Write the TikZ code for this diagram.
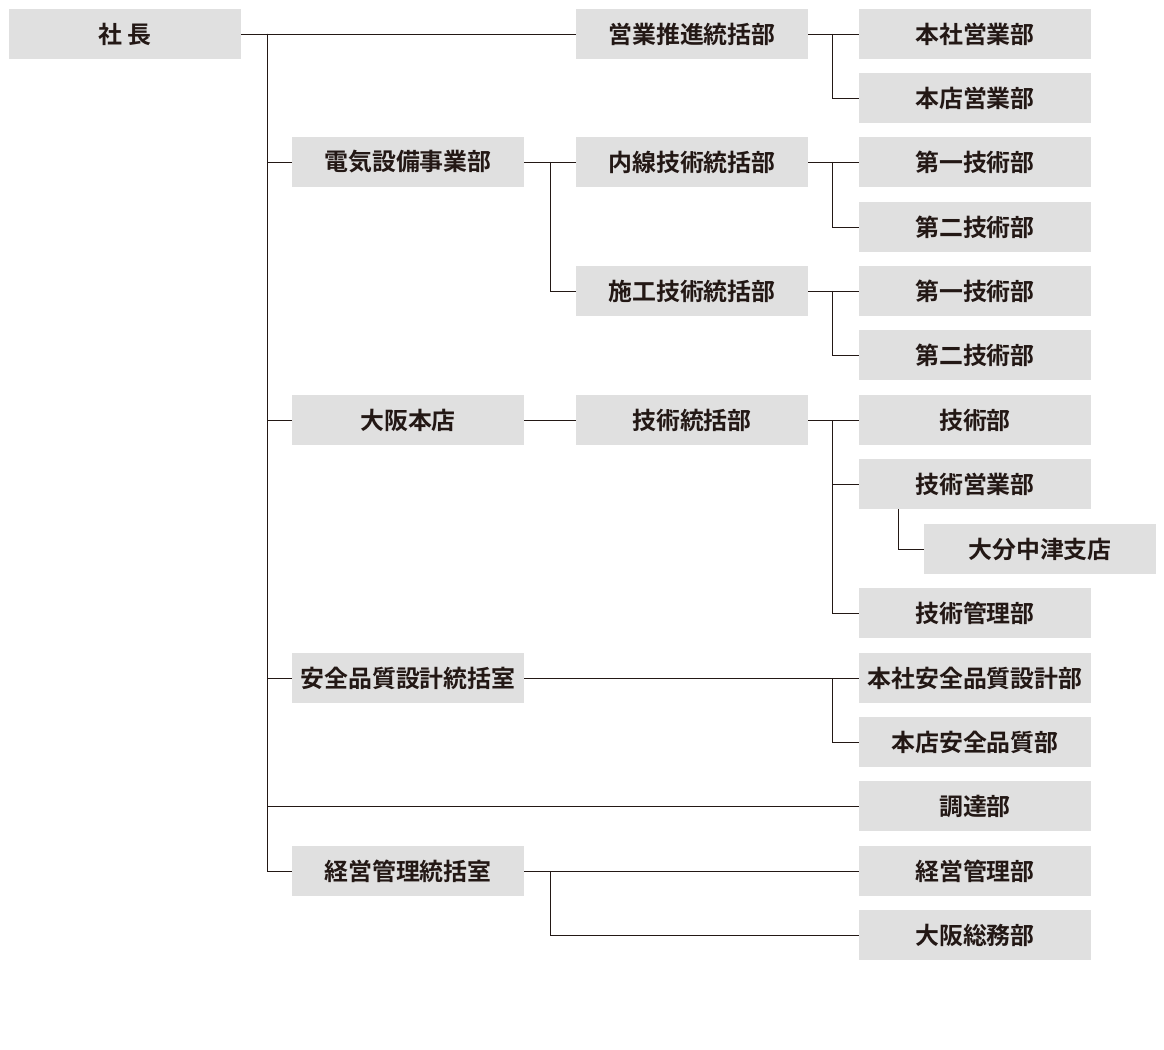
\documentclass[tikz,border=0pt]{standalone}
\usepackage{fontspec}
\setmainfont{Noto Sans CJK JP}[BoldFont={Noto Sans CJK JP Bold}]
\usetikzlibrary{calc}
\definecolor{boxgray}{HTML}{E0E0E0}
\definecolor{linecol}{HTML}{231815}
\begin{document}
\begin{tikzpicture}
  [x=0.025cm,y=-0.025cm,
   every node/.style={fill=boxgray,minimum width=232*0.025cm,minimum height=50*0.025cm,
     inner sep=0pt,font=\fontsize{17}{17}\selectfont\bfseries,text=linecol},
   link/.style={draw=linecol,line width=0.6pt}]
  \useasboundingbox (0,0) rectangle (1164,1050);
  % column 0 and 1
  \node (ceo) at (125,34) {社\ 長};
  \node (denki) at (408,162) {電気設備事業部};
  \node (osaka) at (408,420) {大阪本店};
  \node (anzen) at (408,678) {安全品質設計統括室};
  \node (keiei) at (408,871) {経営管理統括室};
  % column 2
  \node (eigyo) at (692,34) {営業推進統括部};
  \node (naisen) at (692,162) {内線技術統括部};
  \node (seko) at (692,291) {施工技術統括部};
  \node (gijutsu) at (692,420) {技術統括部};
  % column 3
  \node (hse) at (975,34) {本社営業部};
  \node (hte) at (975,98) {本店営業部};
  \node (n1) at (975,162) {第一技術部};
  \node (n2) at (975,227) {第二技術部};
  \node (s1) at (975,291) {第一技術部};
  \node (s2) at (975,355) {第二技術部};
  \node (gb) at (975,420) {技術部};
  \node (ge) at (975,484) {技術営業部};
  \node (oita) at (1040,549) {大分中津支店};
  \node (gk) at (975,613) {技術管理部};
  \node (ha) at (975,678) {本社安全品質設計部};
  \node (ta) at (975,742) {本店安全品質部};
  \node (chotatsu) at (975,806) {調達部};
  \node (kb) at (975,871) {経営管理部};
  \node (os) at (975,935) {大阪総務部};
  % trunk
  \coordinate (top) at (267,34);
  \draw[link] (ceo.east) -- (eigyo.west);
  \foreach \dest in {denki,osaka,anzen,chotatsu,keiei}
    \draw[link] (top) |- (\dest.west);
  % column 1 to 2
  \draw[link] (denki.east) -- (naisen.west);
  \draw[link] ($(denki.east)+(26,0)$) |- (seko.west);
  \draw[link] (osaka.east) -- (gijutsu.west);
  \draw[link] (anzen.east) -- (ha.west);
  \draw[link] ($(anzen.east)+(308,0)$) |- (ta.west);
  \draw[link] (keiei.east) -- (kb.west);
  \draw[link] ($(keiei.east)+(26,0)$) |- (os.west);
  % column 2 to 3
  \foreach \source /\dest in {eigyo/hse,naisen/n1,seko/s1,gijutsu/gb}
    \draw[link] (\source.east) -- (\dest.west);
  \foreach \source /\dest in {eigyo/hte,naisen/n2,seko/s2,gijutsu/ge,gijutsu/gk}
    \draw[link] ($(\source.east)+(24,0)$) |- (\dest.west);
  \draw[link] ($(ge.south west)+(40,0)$) |- (oita.west);
\end{tikzpicture}
\end{document}
